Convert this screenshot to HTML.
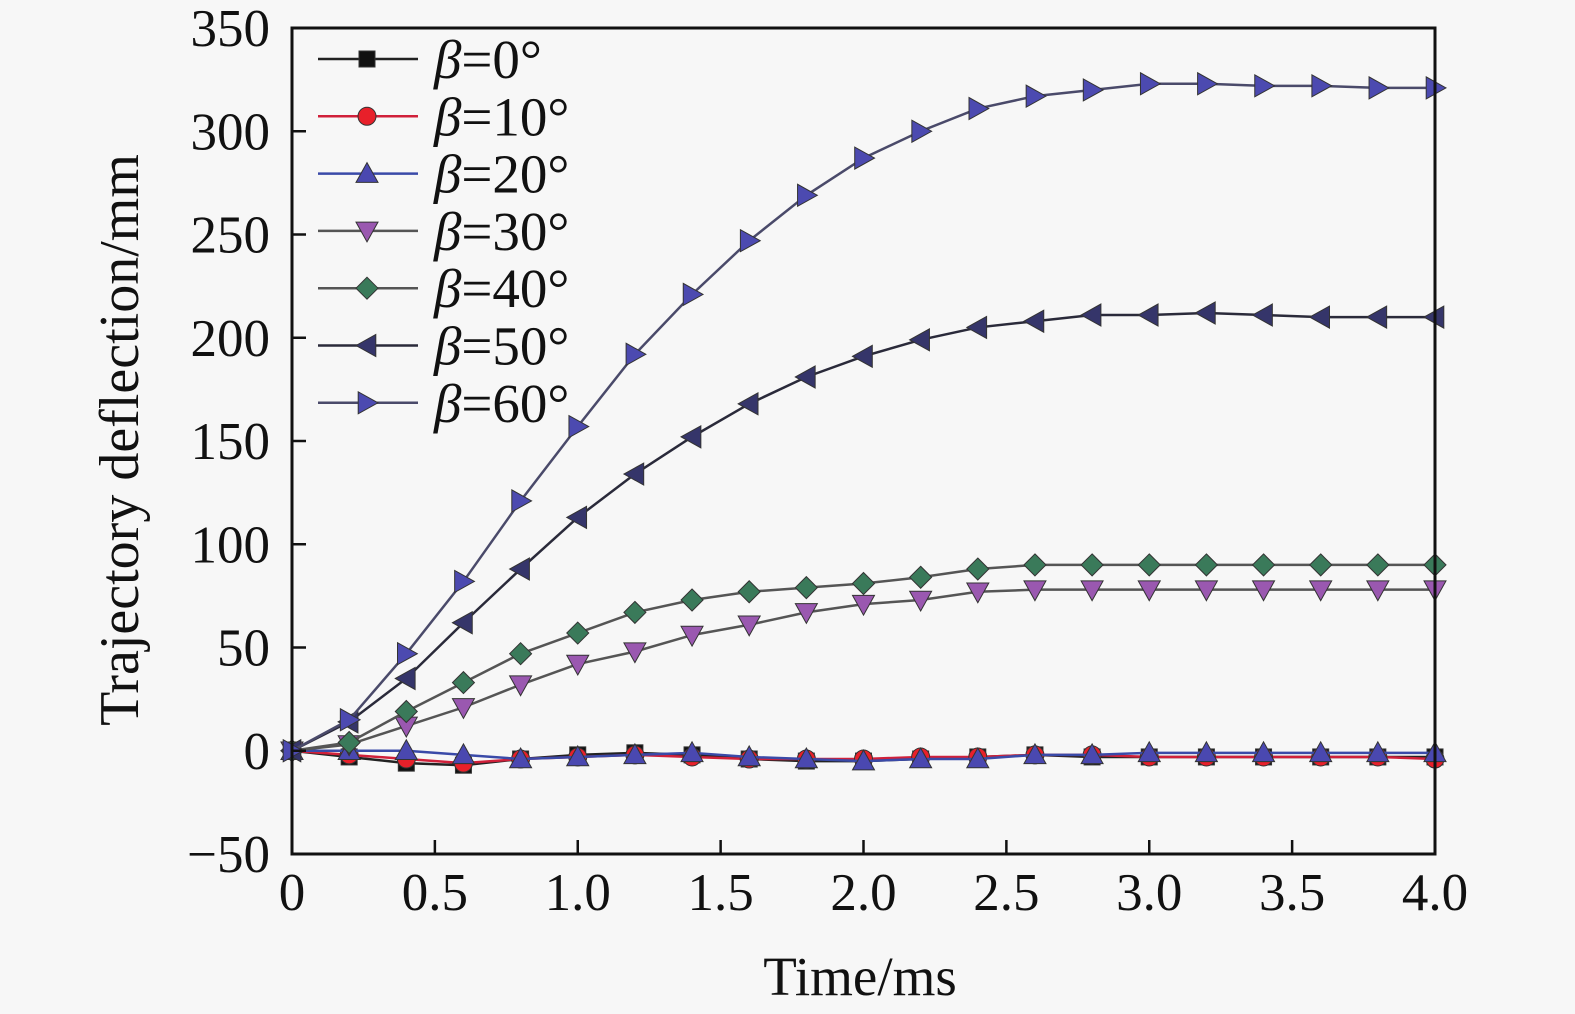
<!DOCTYPE html>
<html><head><meta charset="utf-8"><style>
html,body{margin:0;padding:0;background:#f7f7f7;}
svg{display:block;font-family:"Liberation Serif",serif;}
</style></head><body>
<svg id="chart" width="1575" height="1014" viewBox="0 0 1575 1014" xmlns="http://www.w3.org/2000/svg">
<rect x="0" y="0" width="1575" height="1014" fill="#f7f7f7"/>
<g id="plot"></g>
<rect x="292" y="28" width="1143" height="826" fill="none" stroke="#111" stroke-width="3"/>
<g id="axes"></g>
<text x="860" y="995" font-size="55" text-anchor="middle" fill="#111">Time/ms</text>
<text transform="translate(138,440) rotate(-90)" font-size="56" text-anchor="middle" fill="#111">Trajectory deflection/mm</text>
<g id="legend"></g>
</svg>
<script>
const times = [0,0.2,0.4,0.6,0.8,1.0,1.2,1.4,1.6,1.8,2.0,2.2,2.4,2.6,2.8,3.0,3.2,3.4,3.6,3.8,4.0];
const seriesNames = ["β=0°","β=10°","β=20°","β=30°","β=40°","β=50°","β=60°"];
const beta0 = [0,-3,-6,-7,-4,-2,-1,-2,-4,-5,-5,-4,-3,-2,-3,-3,-3,-3,-3,-3,-3];
const beta10 = [0,-2,-4,-6,-4,-3,-2,-3,-4,-4,-4,-3,-3,-2,-2,-3,-3,-3,-3,-3,-4];
const beta20 = [0,0,0,-2,-4,-3,-2,-1,-3,-4,-5,-4,-4,-2,-2,-1,-1,-1,-1,-1,-1];
const beta30 = [0,3,12,21,32,42,48,56,61,67,71,73,77,78,78,78,78,78,78,78,78];
const beta40 = [0,4,19,33,47,57,67,73,77,79,81,84,88,90,90,90,90,90,90,90,90];
const beta50 = [0,14,35,62,88,113,134,152,168,181,191,199,205,208,211,211,212,211,210,210,210];
const beta60 = [0,15,47,82,121,157,192,221,247,269,287,300,311,317,320,323,323,322,322,321,321];
const xTicks = [0,0.5,1.0,1.5,2.0,2.5,3.0,3.5,4.0];
const xTickLabels = ["0","0.5","1.0","1.5","2.0","2.5","3.0","3.5","4.0"];
const yTicks = [-50,0,50,100,150,200,250,300,350];
const yTickLabels = ["\u221250","0","50","100","150","200","250","300","350"];

const X0=292,X1=1435,Y0=854,Y1=28;
function xs(v){return X0+(v-0)/4*(X1-X0);}
function ys(v){return Y0-(v+50)/400*(Y0-Y1);}
const NS="http://www.w3.org/2000/svg";
function mk(tag,attrs,parent){const e=document.createElementNS(NS,tag);for(const k in attrs)e.setAttribute(k,attrs[k]);parent.appendChild(e);return e;}

const styles=[
 {data:beta0,line:"#222",fill:"#111",shape:"square"},
 {data:beta10,line:"#d0203a",fill:"#e8202a",shape:"circle"},
 {data:beta20,line:"#3a4aa8",fill:"#4a48b0",shape:"up"},
 {data:beta30,line:"#555",fill:"#9a58b0",shape:"down"},
 {data:beta40,line:"#555",fill:"#3a7a5a",shape:"diamond"},
 {data:beta50,line:"#2a2a3a",fill:"#35356a",shape:"left"},
 {data:beta60,line:"#4a4a6a",fill:"#4c4ab0",shape:"right"}
];
function marker(g,shape,cx,cy,fill){
 const r=11;let el;
 if(shape==="square")el=mk("rect",{x:cx-8,y:cy-8,width:16,height:16},g);
 else if(shape==="circle")el=mk("circle",{cx:cx,cy:cy,r:9},g);
 else{let p;
  if(shape==="up")p=[[cx,cy-r],[cx+r,cy+r*0.8],[cx-r,cy+r*0.8]];
  else if(shape==="down")p=[[cx,cy+r],[cx+r,cy-r*0.8],[cx-r,cy-r*0.8]];
  else if(shape==="left")p=[[cx-r,cy],[cx+r*0.8,cy-r],[cx+r*0.8,cy+r]];
  else if(shape==="right")p=[[cx+r,cy],[cx-r*0.8,cy-r],[cx-r*0.8,cy+r]];
  else p=[[cx,cy-r],[cx+r,cy],[cx,cy+r],[cx-r,cy]];
  el=mk("polygon",{points:p.map(q=>q.join(",")).join(" ")},g);}
 el.setAttribute("fill",fill);el.setAttribute("stroke","#333");el.setAttribute("stroke-width","1");
 return el;
}
const plot=document.getElementById("plot");
styles.forEach((s,i)=>{
 const g=mk("g",{},plot);
 
 
 const pl=mk("polyline",{points:s.data.map((v,j)=>xs(times[j])+","+ys(v)).join(" "),fill:"none",stroke:s.line,"stroke-width":2.5},g);
 
 
 s.data.forEach((v,j)=>{const m=marker(g,s.shape,xs(times[j]),ys(v),s.fill);
  
  });
});
const axes=document.getElementById("axes");
xTicks.forEach((t,i)=>{
 const l=mk("line",{x1:xs(t),x2:xs(t),y1:Y0,y2:Y0-14,stroke:"#111","stroke-width":2.5},axes);
 
 
 const tx=mk("text",{x:xs(t),y:910,"font-size":53,"text-anchor":"middle",fill:"#111"},axes);
 tx.textContent=xTickLabels[i];
 
 
});
yTicks.forEach((t,i)=>{
 const l=mk("line",{x1:X0,x2:X0+14,y1:ys(t),y2:ys(t),stroke:"#111","stroke-width":2.5},axes);
 
 
 const tx=mk("text",{x:270,y:ys(t)+18,"font-size":53,"text-anchor":"end",fill:"#111"},axes);
 tx.textContent=yTickLabels[i];
 
 
});
const leg=document.getElementById("legend");
styles.forEach((s,i)=>{
 const y=59+i*57.3;
 const g=mk("g",{},leg);
 
 
 mk("line",{x1:318,x2:418,y1:y,y2:y,stroke:s.line,"stroke-width":2.5},g);
 marker(g,s.shape,367,y,s.fill);
 const t=mk("text",{x:434,y:y+19,"font-size":55,fill:"#111"},g);
 t.innerHTML='<tspan font-style="italic">β</tspan>'+seriesNames[i].slice(1);
});
</script>
</body></html>
